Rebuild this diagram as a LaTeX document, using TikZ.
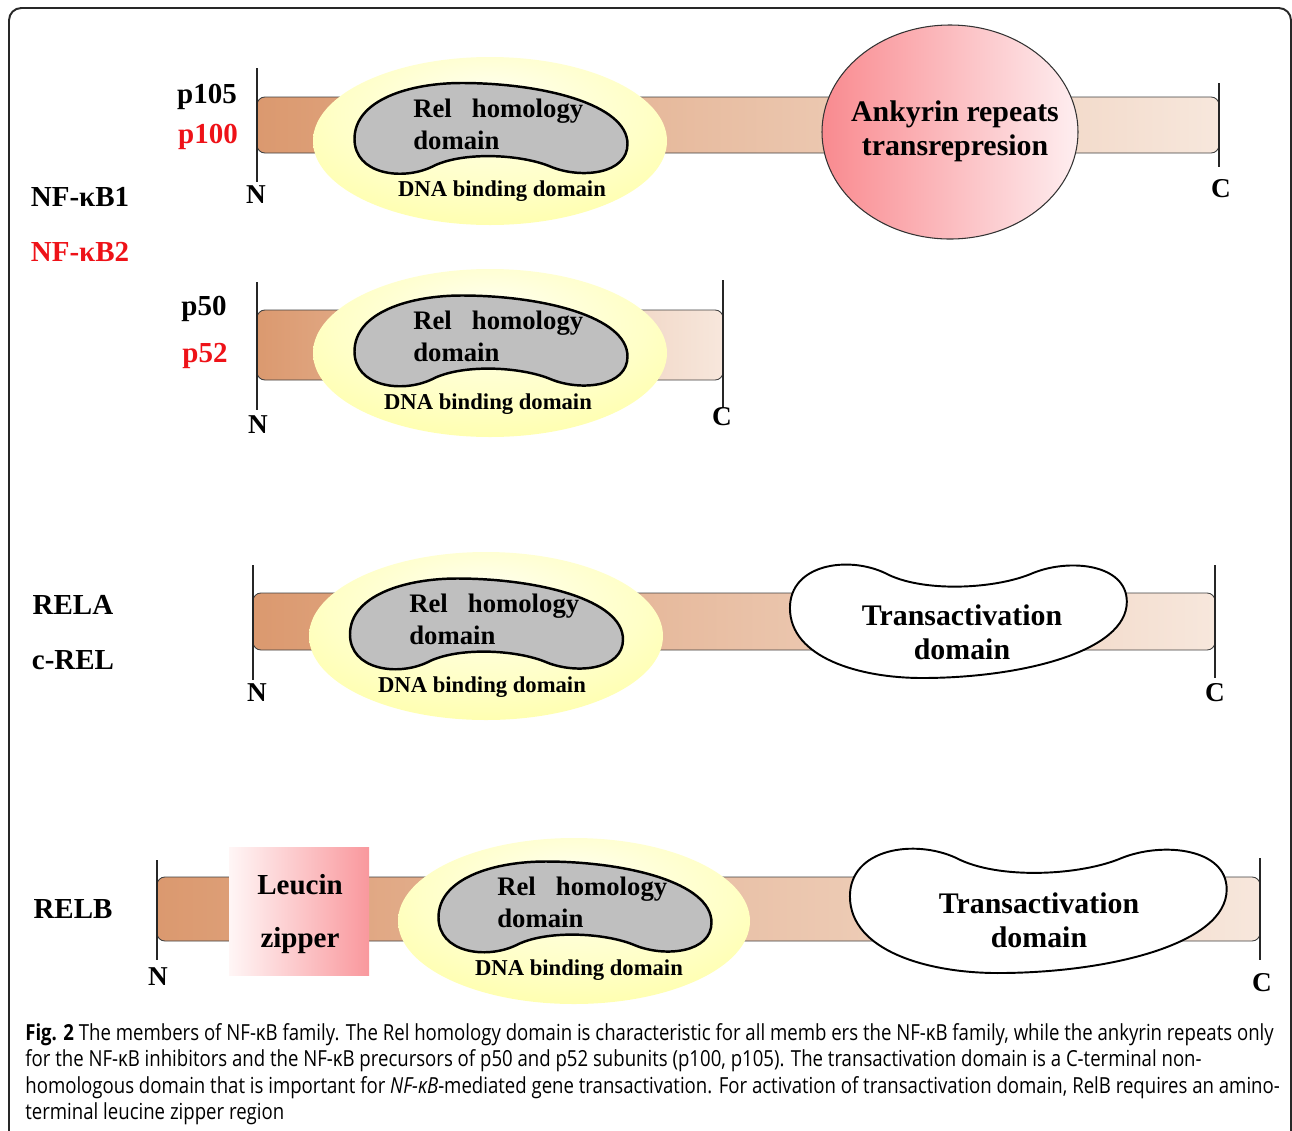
\documentclass[tikz,border=0pt]{standalone}
\usepackage{fontspec}
\setmainfont{Liberation Serif}
\newfontfamily\capfont[FakeStretch=0.84]{Open Sans}
\usetikzlibrary{shapes, positioning, calc}

\definecolor{barL}{RGB}{219,153,111}
\definecolor{barR}{RGB}{247,231,220}
\definecolor{relgray}{RGB}{191,191,191}
\definecolor{ankL}{RGB}{249,138,143}
\definecolor{ankR}{RGB}{254,238,240}
\definecolor{zipL}{RGB}{255,246,246}
\definecolor{zipR}{RGB}{249,152,157}
\definecolor{nfred}{RGB}{238,18,24}
\definecolor{framegray}{RGB}{40,40,40}

\pgfdeclareradialshading{dnaglow}{\pgfpoint{0bp}{14bp}}{%
    rgb(0bp)=(1,1,0.94); rgb(22bp)=(1,1,0.78); rgb(50bp)=(1,1,0.5)}

\tikzset{
    pics/relshape/.style={code={
        \path[pic actions] (-137,10) .. controls (-137,-30) and (-80,-46) .. (-30,-46)
            .. controls (50,-46) and (136,-25) .. (136,15)
            .. controls (136,45) and (90,50) .. (60,38)
            .. controls (30,25) and (-30,22) .. (-60,38)
            .. controls (-90,52) and (-137,45) .. (-137,10) -- cycle;
    }},
    protbar/.style={draw=gray!50!black, line width=0.5pt, rounded corners=4.5pt, left color=barL, right color=barR},
    dnabind/.style={shading=dnaglow},
    relhom/.style={draw=black, line width=1.4pt, fill=relgray},
    transact/.style={draw=black, line width=1.1pt, fill=white},
    ankyrin/.style={draw=black!80, line width=0.6pt, left color=ankL, right color=ankR},
    zipper/.style={left color=zipL, right color=zipR},
    term/.style={draw=black!85, line width=0.8pt},
    termlbl/.style={font=\fontsize{15.5}{18}\selectfont\bfseries, inner sep=0pt},
    famlbl/.style={font=\fontsize{16.5}{19}\selectfont\bfseries, inner sep=0pt},
    reltxt/.style={font=\fontsize{15.2}{18}\selectfont\bfseries, align=left, inner sep=0pt, anchor=north west},
    dnatxt/.style={font=\fontsize{12.9}{15}\selectfont\bfseries, inner sep=0pt},
    domtxt/.style={font=\fontsize{17}{19.3}\selectfont\bfseries, align=center, inner sep=0pt},
    captxt/.style={font=\capfont\fontsize{12.6}{15}\selectfont, inner sep=0pt, anchor=base west},
}

\begin{document}
\begin{tikzpicture}[x=0.02cm, y=-0.02cm]
    \useasboundingbox (0,0) rectangle (1292,1130);
    \draw[framegray, line width=1.1pt, rounded corners=7pt] (9,8) rectangle (1291,1160);

    % p105 / p100
    \coordinate (n1a) at (257,68);
    \coordinate (n1b) at (257,182);
    \coordinate (c1a) at (1219,83);
    \coordinate (c1b) at (1219,167);
    \draw[protbar] (257,97) rectangle (1219,153);
    \shade[dnabind] (490,141) ellipse [x radius=177, y radius=84];
    \pic[relhom] at (491.5,129) {relshape};
    \draw[ankyrin] (950,132) ellipse [x radius=128, y radius=107];
    \draw[term] (n1a) -- (n1b);
    \draw[term] (c1a) -- (c1b);
    \node[reltxt] (rel1) at (413,99) {Rel~~~homology\\domain};
    \node[dnatxt] (dna1) at (502,191) {DNA binding domain};
    \node[domtxt] (ank) at (955,131) {Ankyrin repeats\\transrepresion};
    \node[termlbl] (N1) at (256,195) {N};
    \node[termlbl] (C1) at (1221,189) {C};

    % p50 / p52
    \coordinate (n2a) at (257,282);
    \coordinate (n2b) at (257,410);
    \coordinate (c2a) at (723,280);
    \coordinate (c2b) at (723,408);
    \draw[protbar] (257,310) rectangle (723,380);
    \shade[dnabind] (490,353) ellipse [x radius=177, y radius=84];
    \pic[relhom] at (491.5,341.5) {relshape};
    \draw[term] (n2a) -- (n2b);
    \draw[term] (c2a) -- (c2b);
    \node[reltxt] (rel2) at (413,311) {Rel~~~homology\\domain};
    \node[dnatxt] (dna2) at (488,404) {DNA binding domain};
    \node[termlbl] (N2) at (258,425) {N};
    \node[termlbl] (C2) at (722,417) {C};

    % RELA / c-REL
    \coordinate (n3a) at (253,565);
    \coordinate (n3b) at (253,680);
    \coordinate (c3a) at (1215,565);
    \coordinate (c3b) at (1215,678);
    \draw[protbar] (253,593) rectangle (1215,650);
    \shade[dnabind] (486,636) ellipse [x radius=177, y radius=84];
    \pic[relhom] at (487,624.5) {relshape};
    \pic[transact, xscale=1.234, yscale=-1.25] at (959,620.5) {relshape};
    \draw[term] (n3a) -- (n3b);
    \draw[term] (c3a) -- (c3b);
    \node[reltxt] (rel3) at (409,594) {Rel~~~homology\\domain};
    \node[dnatxt] (dna3) at (482,687) {DNA binding domain};
    \node[domtxt] (ta3) at (962,632) {Transactivation\\domain};
    \node[termlbl] (N3) at (257,693) {N};
    \node[termlbl] (C3) at (1215,693) {C};

    % RELB
    \coordinate (n4a) at (157,860);
    \coordinate (n4b) at (157,960);
    \coordinate (c4a) at (1260,858);
    \coordinate (c4b) at (1260,960);
    \draw[protbar] (157,877) rectangle (1260,941);
    \shade[zipper] (229,847) rectangle (369,975);
    \shade[dnabind] (574,921) ellipse [x radius=176, y radius=83];
    \pic[relhom] at (575.5,907.5) {relshape};
    \pic[transact, xscale=1.38, yscale=-1.37] at (1039,910) {relshape};
    \draw[term] (n4a) -- (n4b);
    \draw[term] (c4a) -- (c4b);
    \node[font=\fontsize{16.5}{30.6}\selectfont\bfseries, align=center, inner sep=0pt] (zip) at (300,914) {Leucin\\zipper};
    \node[reltxt] (rel4) at (497,877) {Rel~~~homology\\domain};
    \node[dnatxt] (dna4) at (579,970) {DNA binding domain};
    \node[domtxt] (ta4) at (1039,920) {Transactivation\\domain};
    \node[termlbl] (N4) at (158,977) {N};
    \node[termlbl] (C4) at (1262,983) {C};

    % family names
    \node[famlbl] (p105) at (207,97) {p105};
    \node[famlbl, nfred] (p100) at (208,137) {p100};
    \node[famlbl] (nfkb1) at (80,197) {NF-κB1};
    \node[famlbl, nfred] (nfkb2) at (80,252) {NF-κB2};
    \node[famlbl] (p50) at (204,309) {p50};
    \node[famlbl, nfred] (p52) at (205,356) {p52};
    \node[famlbl] (rela) at (73,605) {RELA};
    \node[famlbl] (crel) at (73,660) {c-REL};
    \node[famlbl] (relb) at (73,909) {RELB};

    % caption
    \node[captxt] (cap1) at (25,1040) {\textbf{Fig. 2} The members of NF-κB family. The Rel homology domain is characteristic for all memb ers the NF-κB family, while the ankyrin repeats only};
    \node[captxt] (cap2) at (25,1066.5) {for the NF-κB inhibitors and the NF-κB precursors of p50 and p52 subunits (p100, p105). The transactivation domain is a C-terminal non-};
    \node[captxt] (cap3) at (25,1093) {homologous domain that is important for \textit{NF-κB}-mediated gene transactivation. For activation of transactivation domain, RelB requires an amino-};
    \node[captxt] (cap4) at (25,1119.5) {terminal leucine zipper region};
\end{tikzpicture}
\end{document}
